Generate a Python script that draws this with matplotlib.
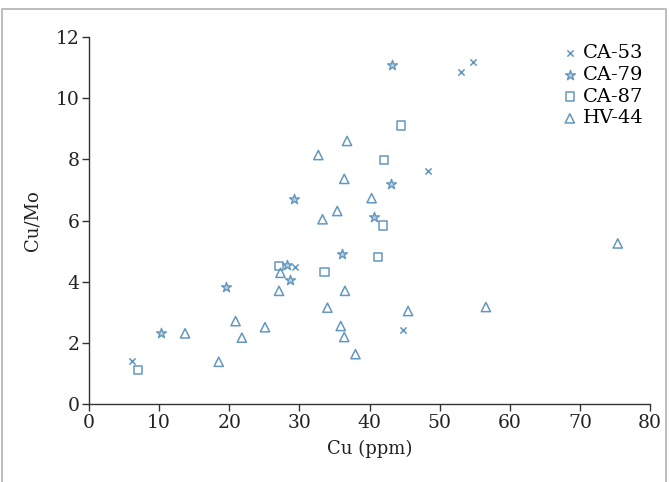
import matplotlib
matplotlib.use("Agg")
import matplotlib.pyplot as plt
from matplotlib.lines import Line2D

plt.rcParams['font.family'] = ['DejaVu Serif']

ca53_x = [6.2, 29.4, 53.0, 54.7, 48.3, 44.8]
ca53_y = [1.40, 4.48, 10.87, 11.17, 7.62, 2.42]

ca79_x = [10.3, 19.6, 28.3, 28.7, 29.3, 36.1, 40.6, 43.0, 43.2]
ca79_y = [2.33, 3.84, 4.55, 4.05, 6.70, 4.90, 6.12, 7.18, 11.09]

ca87_x = [7.0, 27.1, 44.5, 42.1, 41.9, 41.2, 33.6]
ca87_y = [1.11, 4.51, 9.11, 7.98, 5.84, 4.81, 4.32]

hv44_x = [27.1, 27.3, 20.9, 13.7, 21.8, 25.1, 18.5, 36.8, 32.7, 36.4, 40.3,
          35.4, 33.3, 36.5, 34.0, 45.5, 56.6, 35.9, 36.4, 38.0, 75.4]
hv44_y = [3.70, 4.29, 2.71, 2.31, 2.17, 2.51, 1.38, 8.60, 8.14, 7.36, 6.73,
          6.31, 6.04, 3.70, 3.15, 3.04, 3.17, 2.55, 2.19, 1.63, 5.25]

x_ticks = [0, 10, 20, 30, 40, 50, 60, 70, 80]
y_ticks = [0, 2, 4, 6, 8, 10, 12]

color = '#6497bf'

fig = plt.figure(figsize=(6.69, 4.82), dpi=100)
xl, xr, yt = 1.5 / 669, 666 / 669, 1 - 8.5 / 482
fig.add_artist(Line2D([xl, xl, xr, xr], [0, yt, yt, 0], transform=fig.transFigure,
                      color='#b8b8b8', linewidth=1.3))
ax = fig.add_axes([89/669, 1 - 404/482, 561/669, 367/482])

ax.scatter(ca53_x, ca53_y, marker='x', s=20, color=color, linewidths=1.1, label='CA-53')
ax.scatter(ca79_x, ca79_y, marker='*', s=55, facecolors='#b7cfe3', edgecolors=color, linewidths=1.0, label='CA-79')
ax.scatter(ca87_x, ca87_y, marker='s', s=36, facecolors='none', edgecolors=color, linewidths=1.1, label='CA-87')
ax.scatter(hv44_x, hv44_y, marker='^', s=44, facecolors='none', edgecolors=color, linewidths=1.1, label='HV-44')

ax.set_xlim(0, 80)
ax.set_ylim(0, 12)
ax.set_xticks(x_ticks)
ax.set_yticks(y_ticks)
ax.spines['top'].set_visible(False)
ax.spines['right'].set_visible(False)
for s in ['left', 'bottom']:
    ax.spines[s].set_color('#333333')
    ax.spines[s].set_linewidth(1.0)
ax.tick_params(direction='out', length=5, width=1, colors='#333333', labelsize=13.5,
               labelcolor='#222222', pad=2)
ax.set_xlabel('Cu (ppm)', fontsize=13, labelpad=6, color='#222222')
ax.set_ylabel('Cu/Mo', fontsize=13, labelpad=10, color='#222222')

leg = ax.legend(loc='upper right', bbox_to_anchor=(1.0, 1.0), frameon=False, fontsize=14,
                handletextpad=0.15, labelspacing=0.2, borderaxespad=0.1, handlelength=1.0,
                borderpad=0.25)

fig.savefig('out.png', dpi=100)
